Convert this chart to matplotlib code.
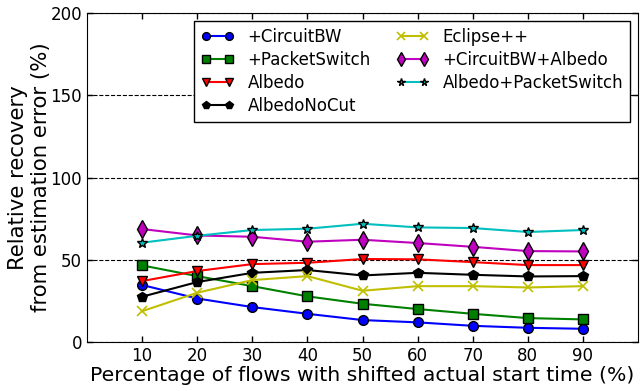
import matplotlib
matplotlib.use("Agg")
import matplotlib.pyplot as plt

# shifted-start percentages on the x axis
shift_pct = [10, 20, 30, 40, 50, 60, 70, 80, 90]

circuit_bw = [34.7, 26.5, 21.3, 17.2, 13.4, 12.0, 9.9, 8.7, 8.1]
packet_switch = [46.6, 40.1, 34.0, 27.8, 23.3, 20.1, 17.2, 14.6, 13.8]
albedo = [37.1, 43.2, 47.4, 48.2, 50.5, 50.3, 48.6, 46.8, 46.8]
albedo_nocut = [27.6, 36.5, 42.1, 43.8, 40.5, 42.1, 40.9, 39.9, 40.1]
eclipse = [18.8, 30.0, 37.7, 40.1, 31.2, 34.0, 34.0, 33.2, 34.0]
circuit_albedo = [68.7, 64.8, 64.0, 61.0, 62.2, 60.2, 57.9, 55.3, 55.1]
albedo_packet = [60.4, 64.6, 68.1, 68.9, 71.9, 69.7, 69.3, 66.9, 68.1]

series = [
    ("+CircuitBW", circuit_bw, "b", "o", 7),
    ("+PacketSwitch", packet_switch, "g", "s", 7),
    ("Albedo", albedo, "r", "v", 7),
    ("AlbedoNoCut", albedo_nocut, "k", "p", 7),
    ("Eclipse++", eclipse, "y", "x", 7),
    ("+CircuitBW+Albedo", circuit_albedo, "m", "d", 9),
    ("Albedo+PacketSwitch", albedo_packet, "c", "*", 7),
]

plt.rcParams['font.family'] = ['DejaVu Sans']
plt.rcParams['xtick.direction'] = 'in'
plt.rcParams['ytick.direction'] = 'in'
plt.rcParams['xtick.top'] = True
plt.rcParams['ytick.right'] = True

fig = plt.figure(figsize=(6.4, 3.91), dpi=100)
ax = fig.add_axes([0.136, 0.125, 0.861, 0.842])

for name, vals, col, mk, ms in series:
    ax.plot(shift_pct, vals, color=col, marker=mk, markersize=ms, linewidth=1.5,
            markeredgecolor='k' if mk != 'x' else col, markeredgewidth=1.0 if mk != 'x' else 1.2,
            label=name)

ax.set_xlim(0, 100)
ax.set_ylim(0, 200)
ax.set_xticks(shift_pct)
ax.set_yticks([0, 50, 100, 150, 200])
ax.tick_params(labelsize=12, length=4, width=1)
ax.grid(axis='y', linestyle='--', color='k', linewidth=0.8)

ax.set_xlabel('Percentage of flows with shifted actual start time (%)', fontsize=14.7, labelpad=1)
ax.set_ylabel('Relative recovery\nfrom estimation error (%)', fontsize=15.3, labelpad=0,
              linespacing=1.15)

leg = ax.legend(loc='upper right', ncol=2, fontsize=12, numpoints=2, fancybox=False,
                framealpha=1, edgecolor='k', handlelength=2, columnspacing=1.5,
                labelspacing=0.3, borderaxespad=0.5, markerscale=0.8)
leg.get_frame().set_linewidth(1.0)

fig.savefig('out.png', dpi=100)
